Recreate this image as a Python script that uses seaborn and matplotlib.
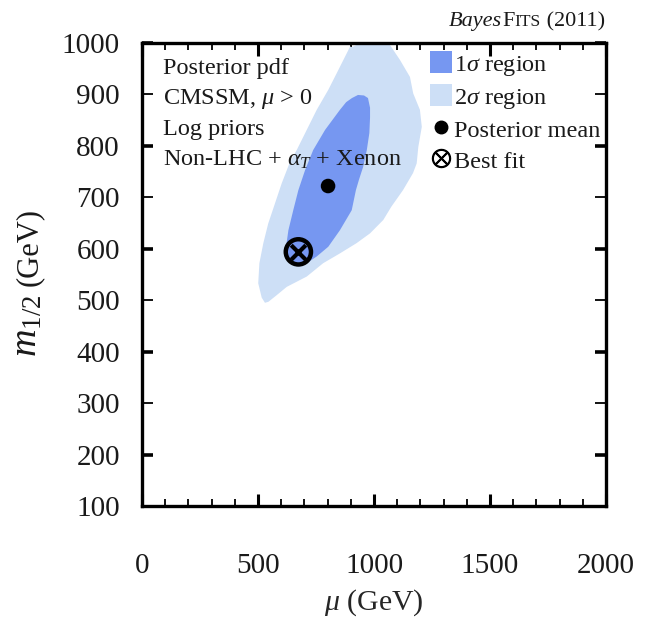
import numpy as np
import pandas as pd
import seaborn as sns
import matplotlib
matplotlib.use("Agg")
import matplotlib.pyplot as plt
from matplotlib.patches import Patch
from matplotlib.lines import Line2D
from matplotlib.ticker import MultipleLocator

# 2-sigma credible region outline (mu, m_1/2) in GeV
sigma2_mu = [905, 940, 983, 1030, 1069, 1112, 1155, 1169, 1198, 1206, 1191,
             1184, 1168, 1125, 1075, 1040, 983, 925, 853, 781, 710, 624, 581,
             545, 530, 516, 501, 506, 523, 544, 573, 602, 638, 667, 710, 753,
             803, 839, 868, 897]
sigma2_m12 = [992, 999, 1000, 999, 996, 967, 934, 902, 870, 837, 798,
              766, 747, 714, 682, 656, 630, 611, 591, 572, 546, 526, 510,
              497, 495, 505, 533, 572, 611, 649, 688, 727, 769, 792, 831, 870,
              909, 941, 967, 993]

# 1-sigma credible region outline
sigma1_mu = [905, 931, 957, 974, 983, 983, 980, 969, 953, 935, 922, 904, 853,
             803, 753, 710, 674, 645, 624, 621, 631, 652, 674, 703, 738, 789,
             853, 880]
sigma1_m12 = [893, 899, 898, 893, 874, 856, 825, 792, 759, 734, 714, 675, 636,
              604, 585, 572, 566, 572, 585, 604, 636, 675, 714, 753, 792, 831,
              870, 885]

# Posterior mean and best-fit point
mean_mu, mean_m12 = [802], [722]
best_mu, best_m12 = [674], [594]

x_ticks = [0, 500, 1000, 1500, 2000]
y_ticks = [100, 200, 300, 400, 500, 600, 700, 800, 900, 1000]

info_lines = ["Posterior pdf", r"CMSSM, $\mu$ > 0", "Log priors",
              r"Non-LHC + $\alpha_T$ + Xenon"]

dark_blue = "#7697f1"
light_blue = "#cddff6"

sns.set_theme(style="ticks")
plt.rcParams["font.family"] = ["Liberation Serif", "DejaVu Serif"]
plt.rcParams["mathtext.fontset"] = "custom"
plt.rcParams["mathtext.rm"] = "Liberation Serif"
plt.rcParams["mathtext.it"] = "Liberation Serif:italic"
plt.rcParams["mathtext.bf"] = "Liberation Serif:bold"
plt.rcParams["text.color"] = "#1a1a1a"

W, H = 646, 620
fig = plt.figure(figsize=(W / 100, H / 100), dpi=100)
ax = fig.add_axes([142 / W, 1 - 506 / H, 464 / W, 463 / H])

ax.fill(sigma2_mu, sigma2_m12, color=light_blue, lw=0, zorder=1)
ax.fill(sigma1_mu, sigma1_m12, color=dark_blue, lw=0, zorder=2)

pts_mean = pd.DataFrame({"mu": mean_mu, "m12": mean_m12})
pts_best = pd.DataFrame({"mu": best_mu, "m12": best_m12})
sns.scatterplot(data=pts_mean, x="mu", y="m12", ax=ax, color="black",
                s=110, edgecolor="none", zorder=5)
sns.scatterplot(data=pts_best, x="mu", y="m12", ax=ax, marker="o",
                facecolor="none", edgecolor="black", linewidth=3.2,
                s=330, zorder=5)
sns.scatterplot(data=pts_best, x="mu", y="m12", ax=ax, marker="x",
                color="black", linewidth=3.0, s=110, zorder=5)

ax.set_xlim(0, 2000)
ax.set_ylim(100, 1000)
ax.set_xticks(x_ticks)
ax.set_yticks(y_ticks)
ax.xaxis.set_minor_locator(MultipleLocator(100))
ax.set_xticklabels([str(v) for v in x_ticks], fontsize=21)
ax.set_yticklabels([str(v) for v in y_ticks], fontsize=21)

for side in ["left", "right", "top", "bottom"]:
    ax.spines[side].set_visible(True)
    ax.spines[side].set_linewidth(2.4)
    ax.spines[side].set_color("black")

ax.tick_params(axis="both", which="both", direction="in", top=True,
               right=True, colors="black", labelcolor="#1a1a1a")
ax.tick_params(axis="x", which="major", length=9, width=2.2, pad=34)
ax.tick_params(axis="x", which="minor", length=5, width=1.3)
ax.tick_params(axis="y", which="major", length=8, width=1.3, pad=16)
# thicker ticks at every other y value
for tick, val in zip(ax.yaxis.get_major_ticks(), y_ticks):
    if val % 200 == 0:
        for line in (tick.tick1line, tick.tick2line):
            line.set_markeredgewidth(2.6)

ax.set_xlabel(r"$\mu$ (GeV)", fontsize=21.5, labelpad=6)
ax.set_ylabel("")

for i, txt in enumerate(info_lines):
    ax.text(0.045, 0.946 - i * 0.066, txt, transform=ax.transAxes,
            fontsize=17.5, va="center", ha="left", zorder=6)

handles = [
    Patch(facecolor=dark_blue, edgecolor="none", label=r"1$\sigma$ region"),
    Patch(facecolor=light_blue, edgecolor="none", label=r"2$\sigma$ region"),
    Line2D([], [], marker="o", color="black", ls="none", markersize=9,
           label="Posterior mean"),
    Line2D([], [], marker=r"$\otimes$", color="black", ls="none",
           markersize=13, label="Best fit"),
]
leg = ax.legend(handles=handles, loc="upper left",
                bbox_to_anchor=(0.62, 0.982), frameon=False, fontsize=17.5,
                handlelength=0.92, handleheight=1.0, handletextpad=0.08,
                labelspacing=0.28, borderpad=0, borderaxespad=0)
leg.set_zorder(6)

fig.canvas.draw()
renderer = fig.canvas.get_renderer()

# Vertical axis title: large m_{1/2} followed by (GeV)
ym = fig.text(37 / W, 1 - 357 / H, r"$m_{1/2}$", fontsize=27.5, rotation=90,
              rotation_mode="anchor", ha="left", va="baseline")
bb = ym.get_window_extent(renderer=renderer)
fig.text(37 / W, (bb.y1 + 9) / fig.bbox.height, "(GeV)", fontsize=22,
         rotation=90, rotation_mode="anchor", ha="left", va="baseline")

# Top-right credit line, built right to left
x_right = 605 / W
y_base = 1 - 26 / H
pieces = [(" (2011)", 16, "normal"), ("ITS", 12.5, "normal"),
          ("F", 16, "normal"), ("Bayes", 16, "italic")]
xr = x_right
for s, size, style in pieces:
    t = fig.text(xr, y_base, s, fontsize=size, fontstyle=style,
                 ha="right", va="baseline")
    bb = t.get_window_extent(renderer=renderer)
    xr = bb.x0 / fig.bbox.width

fig.savefig("out.png", dpi=100)
